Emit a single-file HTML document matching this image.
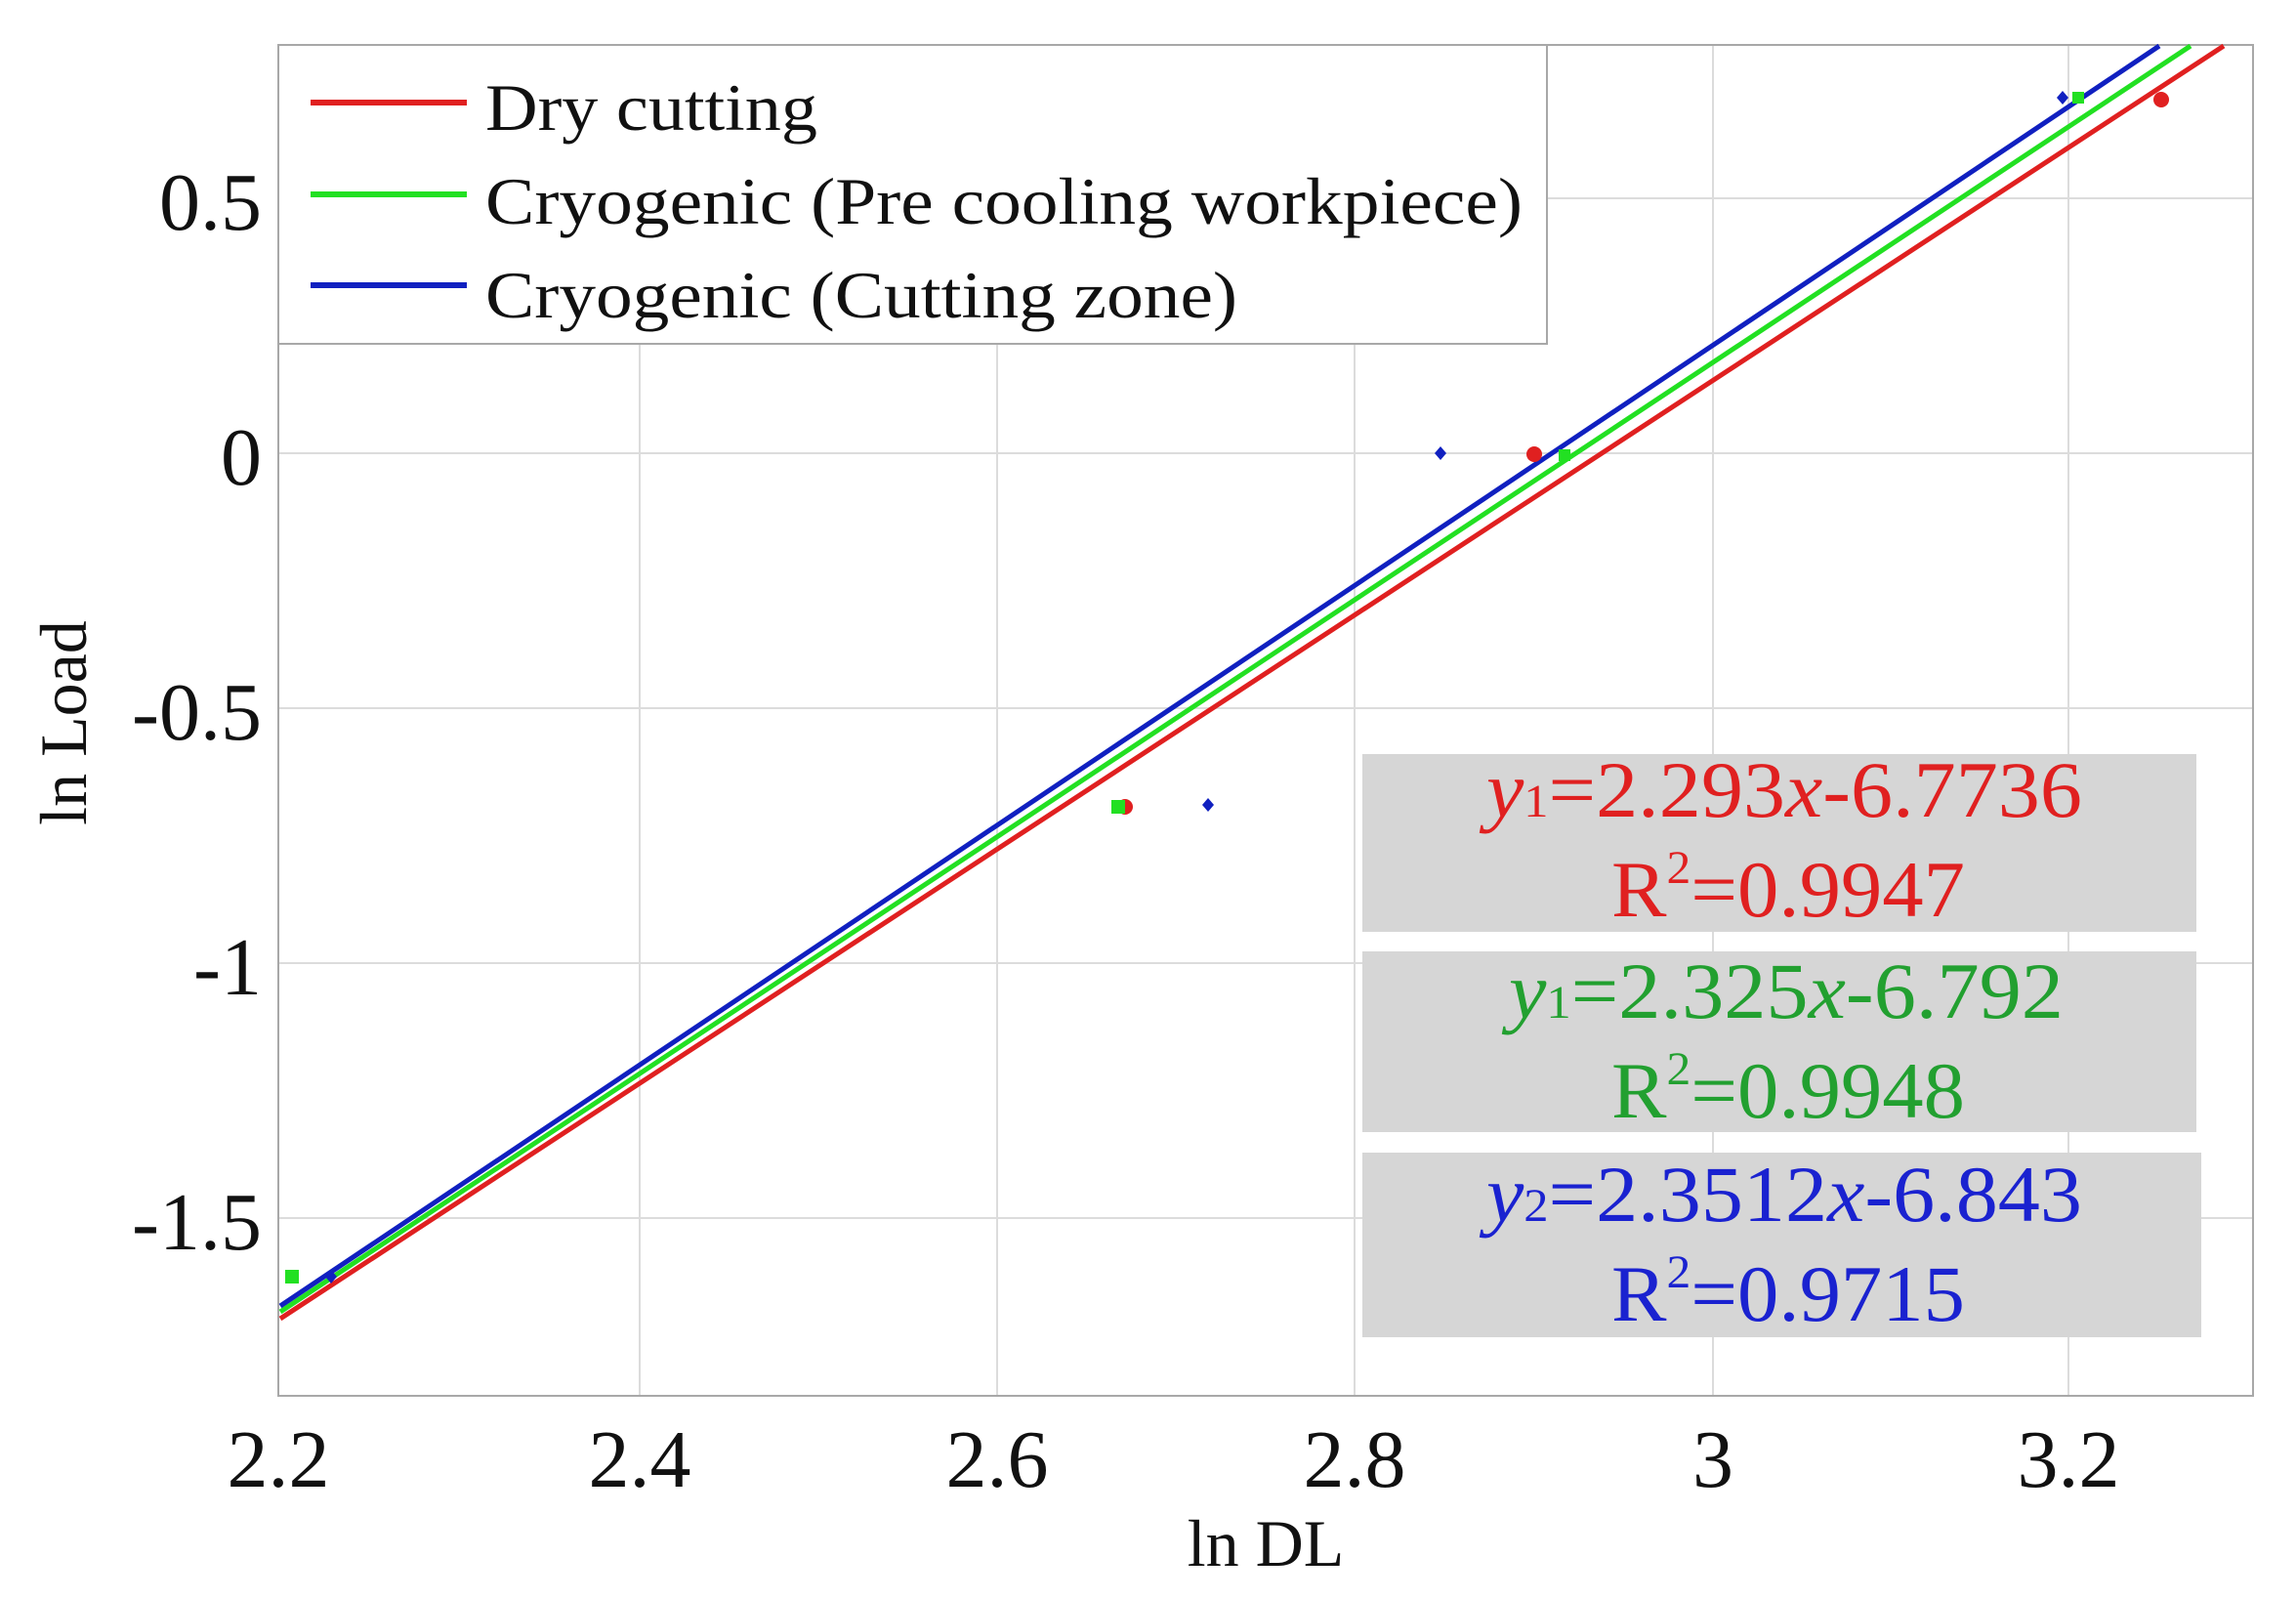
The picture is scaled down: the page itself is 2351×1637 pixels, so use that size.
<!DOCTYPE html>
<html><head><meta charset="utf-8"><style>html,body{margin:0;padding:0;background:#fff}svg{display:block}</style></head>
<body>
<svg width="2351" height="1637" viewBox="0 0 2351 1637" xmlns="http://www.w3.org/2000/svg" font-family="Liberation Serif, serif">
<rect width="2351" height="1637" fill="#fff"/>
<g stroke="#dcdcdc" stroke-width="2">
<line x1="655" y1="46" x2="655" y2="1429"/>
<line x1="1021" y1="46" x2="1021" y2="1429"/>
<line x1="1387" y1="46" x2="1387" y2="1429"/>
<line x1="1754" y1="46" x2="1754" y2="1429"/>
<line x1="2118" y1="46" x2="2118" y2="1429"/>
<line x1="285" y1="203" x2="2307" y2="203"/>
<line x1="285" y1="464" x2="2307" y2="464"/>
<line x1="285" y1="725" x2="2307" y2="725"/>
<line x1="285" y1="986" x2="2307" y2="986"/>
<line x1="285" y1="1247" x2="2307" y2="1247"/>
</g>
<rect x="285" y="46" width="2022" height="1383" fill="none" stroke="#a8a8a8" stroke-width="2"/>
<rect x="1395" y="772" width="854" height="182" fill="#d6d6d6"/>
<rect x="1395" y="974" width="854" height="185" fill="#d6d6d6"/>
<rect x="1395" y="1180" width="859" height="189" fill="#d6d6d6"/>
<line x1="287" y1="1350" x2="2277" y2="47" stroke="#e02020" stroke-width="5"/>
<line x1="287" y1="1343" x2="2243" y2="47" stroke="#22e022" stroke-width="5"/>
<line x1="287" y1="1337" x2="2211" y2="47" stroke="#1020c0" stroke-width="5"/>
<g fill="#e02020"><circle cx="1571" cy="465" r="8"/><circle cx="2213" cy="102" r="8"/><circle cx="1152" cy="826" r="8"/></g>
<g fill="#22e022"><rect x="292" y="1300" width="14" height="14"/><rect x="1138" y="819" width="14" height="14"/><rect x="1596" y="460" width="12" height="12"/><rect x="2122" y="94" width="12" height="12"/></g>
<g fill="#1020c0"><path d="M339 1300l6 7-6 7-6-7z"/><path d="M1237 817l6 7-6 7-6-7z"/><path d="M1475 457l6 7-6 7-6-7z"/><path d="M2112 93l6 7-6 7-6-7z"/></g>
<rect x="285" y="46" width="1299" height="306" fill="#fff" stroke="#a8a8a8" stroke-width="2"/>
<line x1="318" y1="105" x2="478" y2="105" stroke="#e02020" stroke-width="6"/>
<line x1="318" y1="199" x2="478" y2="199" stroke="#22e022" stroke-width="6"/>
<line x1="318" y1="292" x2="478" y2="292" stroke="#1020c0" stroke-width="6"/>
<g font-size="68" fill="#111">
<text x="497" y="133" textLength="340" lengthAdjust="spacingAndGlyphs">Dry cutting</text>
<text x="497" y="229" textLength="1062" lengthAdjust="spacingAndGlyphs">Cryogenic (Pre cooling workpiece)</text>
<text x="497" y="325" textLength="770" lengthAdjust="spacingAndGlyphs">Cryogenic (Cutting zone)</text>
</g>
<g font-size="82">
<text x="1522" y="836" fill="#e02020" textLength="610" lengthAdjust="spacingAndGlyphs"><tspan font-style="italic">y</tspan><tspan font-size="48">1</tspan>=2.293<tspan font-style="italic">x</tspan>-6.7736</text>
<text x="1650" y="938" fill="#e02020" textLength="362" lengthAdjust="spacingAndGlyphs">R<tspan font-size="48" dy="-34">2</tspan><tspan dy="34">=0.9947</tspan></text>
<text x="1545" y="1042" fill="#22a030" textLength="568" lengthAdjust="spacingAndGlyphs"><tspan font-style="italic">y</tspan><tspan font-size="48">1</tspan>=2.325<tspan font-style="italic">x</tspan>-6.792</text>
<text x="1650" y="1144" fill="#22a030" textLength="362" lengthAdjust="spacingAndGlyphs">R<tspan font-size="48" dy="-34">2</tspan><tspan dy="34">=0.9948</tspan></text>
<text x="1522" y="1250" fill="#1a22d0" textLength="610" lengthAdjust="spacingAndGlyphs"><tspan font-style="italic">y</tspan><tspan font-size="48">2</tspan>=2.3512<tspan font-style="italic">x</tspan>-6.843</text>
<text x="1650" y="1352" fill="#1a22d0" textLength="362" lengthAdjust="spacingAndGlyphs">R<tspan font-size="48" dy="-34">2</tspan><tspan dy="34">=0.9715</tspan></text>
</g>
<g font-size="84" fill="#111" text-anchor="end">
<text x="268" y="235">0.5</text>
<text x="268" y="496">0</text>
<text x="268" y="757">-0.5</text>
<text x="268" y="1018">-1</text>
<text x="268" y="1279">-1.5</text>
</g>
<g font-size="84" fill="#111" text-anchor="middle">
<text x="285" y="1522">2.2</text>
<text x="655" y="1522">2.4</text>
<text x="1021" y="1522">2.6</text>
<text x="1387" y="1522">2.8</text>
<text x="1754" y="1522">3</text>
<text x="2118" y="1522">3.2</text>
</g>
<text x="1296" y="1603" font-size="68" fill="#111" text-anchor="middle">ln DL</text>
<text transform="translate(88,740) rotate(-90)" font-size="68" fill="#111" text-anchor="middle">ln Load</text>
</svg>
</body></html>
